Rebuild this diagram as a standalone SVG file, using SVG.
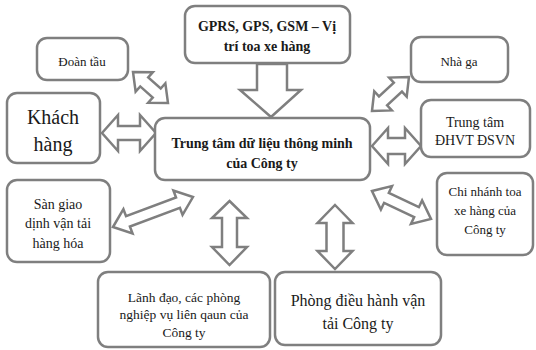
<svg xmlns="http://www.w3.org/2000/svg" width="536" height="350" viewBox="0 0 536 350">
<style>
.box{fill:#fff;stroke:#7f7f7f;stroke-width:2.5}
.arr{fill:#fff;stroke:#7f7f7f;stroke-width:2.5;stroke-linejoin:miter}
text{font-family:'Liberation Serif','DejaVu Serif',serif;fill:#1a1a1a;text-anchor:middle}
.b{font-weight:bold}
</style>
<rect width="536" height="350" fill="#fff"/>
<g id="connectors">
<polygon class="arr" points="257,64 287,64 287,90 301,90 271,117 240,90 257,90"/>
<polygon class="arr" transform="translate(133,72) rotate(41.5)" points="0,0 15,-13 15,-6 31.7,-6 31.7,-13 46.7,0 31.7,13 31.7,6 15,6 15,13"/>
<polygon class="arr" transform="translate(372,111) rotate(-42.6)" points="0,0 15,-13 15,-6 35.2,-6 35.2,-13 50.2,0 35.2,13 35.2,6 15,6 15,13"/>
<polygon class="arr" points="102,133 118,115 118,126 140,126 140,115 156,133 140,151 140,140 118,140 118,151"/>
<polygon class="arr" points="372,146 388,128 388,138 405,138 405,128 421,146 405,164 405,154 388,154 388,164"/>
<polygon class="arr" transform="translate(113,227) rotate(-20.56)" points="0,0 16,-13 16,-5.5 69.4,-5.5 69.4,-13 85.4,0 69.4,13 69.4,5.5 16,5.5 16,13"/>
<polygon class="arr" transform="translate(372,191) rotate(25.4)" points="0,0 16,-13 16,-5.5 49.3,-5.5 49.3,-13 65.3,0 49.3,13 49.3,5.5 16,5.5 16,13"/>
<polygon class="arr" points="229.5,201 247,218 237,218 237,247 247,247 229.5,265 212,247 222,247 222,218 212,218"/>
<polygon class="arr" points="335,205 352.5,223 343.5,223 343.5,251 352.5,251 335,269 317.5,251 326.5,251 326.5,223 317.5,223"/>
</g>
<g id="gprs">
<rect class="box" x="185" y="6" width="165" height="57" rx="10"/>
<text class="b" x="267" y="31" font-size="14">GPRS, GPS, GSM – Vị</text>
<text class="b" x="267" y="51" font-size="14">trí toa xe hàng</text>
</g>
<g id="doantau">
<rect class="box" x="37" y="38" width="91" height="42" rx="10"/>
<text x="82" y="66" font-size="13">Đoàn tầu</text>
</g>
<g id="khachhang">
<rect class="box" x="7" y="93" width="93" height="70" rx="10"/>
<text x="53" y="124" font-size="20">Khách</text>
<text x="53" y="151" font-size="20">hàng</text>
</g>
<g id="center">
<rect class="box" x="155" y="118" width="215" height="62" rx="10"/>
<text class="b" x="262" y="148" font-size="14">Trung tâm dữ liệu thông minh</text>
<text class="b" x="262" y="168" font-size="14">của Công ty</text>
</g>
<g id="nhaga">
<rect class="box" x="411" y="37" width="97" height="45" rx="10"/>
<text x="459" y="66" font-size="13">Nhà ga</text>
</g>
<g id="dhvt">
<rect class="box" x="421" y="100" width="109" height="57" rx="10"/>
<text x="475" y="127" font-size="14">Trung tâm</text>
<text x="475" y="145" font-size="14">ĐHVT ĐSVN</text>
</g>
<g id="chinhanh">
<rect class="box" x="437" y="173" width="96" height="82" rx="10"/>
<text x="485" y="196" font-size="13">Chi nhánh toa</text>
<text x="485" y="215" font-size="13">xe hàng của</text>
<text x="485" y="234" font-size="13">Công ty</text>
</g>
<g id="sangiao">
<rect class="box" x="7" y="180" width="103" height="82" rx="10"/>
<text x="58" y="209" font-size="14">Sàn giao</text>
<text x="58" y="228" font-size="14">dịnh vận tải</text>
<text x="58" y="248" font-size="14">hàng hóa</text>
</g>
<g id="lanhdao">
<rect class="box" x="98" y="272" width="172" height="75" rx="10"/>
<text x="184" y="302" font-size="13.5">Lãnh đạo, các phòng</text>
<text x="184" y="319" font-size="13.5">nghiệp vụ liên qaun của</text>
<text x="184" y="337" font-size="13.5">Công ty</text>
</g>
<g id="phong">
<rect class="box" x="275" y="272" width="166" height="73" rx="10"/>
<text x="358" y="306" font-size="16">Phòng điều hành vận</text>
<text x="358" y="329" font-size="16">tải Công ty</text>
</g>
</svg>
